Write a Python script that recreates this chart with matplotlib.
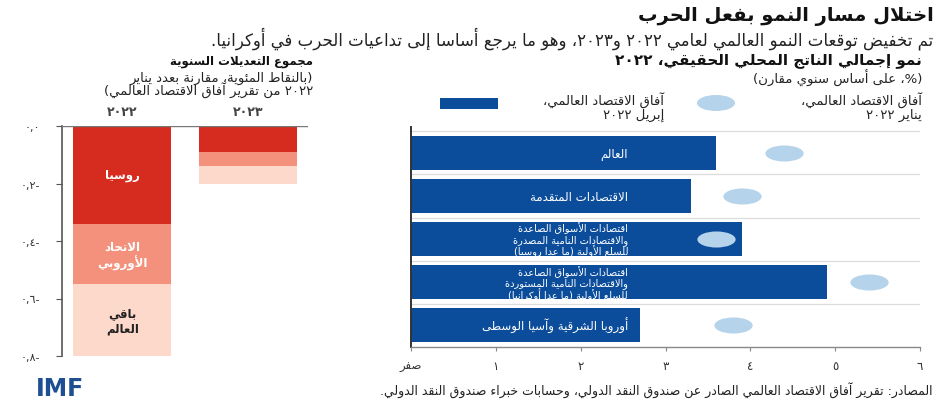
import re
import matplotlib
matplotlib.use('Agg')
import matplotlib.pyplot as plt
from matplotlib.path import Path
from matplotlib.transforms import Affine2D, offset_copy
from matplotlib.patches import Rectangle, Ellipse

plt.rcParams['font.family'] = ['DejaVu Sans']

# ---------------- data ----------------
adj_years = ['٢٠٢٢', '٢٠٢٣']
adj_russia = [-0.34, -0.09]
adj_eu = [-0.21, -0.05]
adj_rest = [-0.25, -0.06]
adj_ticks = [0.0, -0.2, -0.4, -0.6, -0.8]
adj_ticklabels = ['٠,٠', '٠,٢-', '٠,٤-', '٠,٦-', '٠,٨-']
seg_names = ['روسيا', 'الاتحاد\nالأوروبي', 'باقي\nالعالم']

gdp_categories = [
    'العالم',
    'الاقتصادات المتقدمة',
    'اقتصادات الأسواق الصاعدة\nوالاقتصادات النامية المصدرة\nللسلع الأولية (ما عدا روسيا)',
    'اقتصادات الأسواق الصاعدة\nوالاقتصادات النامية المستوردة\nللسلع الأولية (ما عدا أوكرانيا)',
    'أوروبا الشرقية وآسيا الوسطى',
]
gdp_apr2022 = [3.6, 3.3, 3.9, 4.9, 2.7]
gdp_jan2022 = [4.4, 3.9, 3.6, 5.4, 3.8]
gdp_ticks = [0, 1, 2, 3, 4, 5, 6]
gdp_ticklabels = ['صفر', '١', '٢', '٣', '٤', '٥', '٦']

# ---------------- simple Arabic shaping + visual ordering ----------------
DUAL = {0x0626: 0xFE89, 0x0628: 0xFE8F, 0x062A: 0xFE95, 0x062B: 0xFE99, 0x062C: 0xFE9D,
        0x062D: 0xFEA1, 0x062E: 0xFEA5, 0x0633: 0xFEB1, 0x0634: 0xFEB5, 0x0635: 0xFEB9,
        0x0636: 0xFEBD, 0x0637: 0xFEC1, 0x0638: 0xFEC5, 0x0639: 0xFEC9, 0x063A: 0xFECD,
        0x0641: 0xFED1, 0x0642: 0xFED5, 0x0643: 0xFED9, 0x0644: 0xFEDD, 0x0645: 0xFEE1,
        0x0646: 0xFEE5, 0x0647: 0xFEE9, 0x064A: 0xFEF1}
RIGHT = {0x0622: 0xFE81, 0x0623: 0xFE83, 0x0624: 0xFE85, 0x0625: 0xFE87, 0x0627: 0xFE8D,
         0x0629: 0xFE93, 0x062F: 0xFEA9, 0x0630: 0xFEAB, 0x0631: 0xFEAD, 0x0632: 0xFEAF,
         0x0648: 0xFEED, 0x0649: 0xFEEF}
NONJ = {0x0621: 0xFE80}
LAMALEF = {0x0622: 0xFEF5, 0x0623: 0xFEF7, 0x0625: 0xFEF9, 0x0627: 0xFEFB}


def _fwd(c):
    return c is not None and (ord(c) in DUAL or c == '\u0640')


def _joins(c):
    return c is not None and (ord(c) in DUAL or ord(c) in RIGHT or c == '\u0640')


def shape(s):
    out = []
    n = len(s)
    i = 0
    while i < n:
        c = s[i]
        o = ord(c)
        prev = s[i - 1] if i > 0 else None
        p = _fwd(prev)
        if o == 0x0644 and i + 1 < n and ord(s[i + 1]) in LAMALEF:
            out.append(chr(LAMALEF[ord(s[i + 1])] + (1 if p else 0)))
            i += 2
            continue
        nxt = s[i + 1] if i + 1 < n else None
        nx = _joins(nxt)
        if o in DUAL:
            b = DUAL[o]
            if p and nx:
                out.append(chr(b + 3))
            elif nx:
                out.append(chr(b + 2))
            elif p:
                out.append(chr(b + 1))
            else:
                out.append(chr(b))
        elif o in RIGHT:
            out.append(chr(RIGHT[o] + (1 if p else 0)))
        elif o in NONJ:
            out.append(chr(NONJ[o]))
        else:
            out.append(c)
        i += 1
    return ''.join(out)


NUM = re.compile(r'[0-9\u0660-\u0669]+(?:[.,\u066B][0-9\u0660-\u0669]+)*')
MIRROR = {'(': ')', ')': '(', '[': ']', ']': '['}


def visual(s):
    toks = []
    pos = 0
    for m in NUM.finditer(s):
        toks.extend(MIRROR.get(ch, ch) for ch in s[pos:m.start()])
        toks.append(m.group())
        pos = m.end()
    toks.extend(MIRROR.get(ch, ch) for ch in s[pos:])
    return ''.join(reversed(toks))


def ar(s):
    return '\n'.join(visual(shape(line)) for line in s.split('\n'))


# ---------------- figure ----------------
W, H = 939, 402
fig = plt.figure(figsize=(W / 100, H / 100), dpi=100)
fig.patch.set_facecolor('white')


def fx(px):
    return px / W


def fy(py):
    return 1 - py / H


def lines_text(x, y0, step, s, **kw):
    for k, line in enumerate(s.split('\n')):
        fig.text(fx(x), fy(y0 + k * step), ar(line), **kw)


RED = '#d62b1f'
SALMON = '#f4917c'
PALE = '#fdd9cc'
BLUE = '#0b4d9b'
LBLUE = '#b5d3ea'
TXT = '#222222'

# titles
fig.text(fx(934), fy(16), ar('اختلال مسار النمو بفعل الحرب'), ha='right', va='center',
         fontsize=14, fontweight='bold', color='#111111')
fig.text(fx(933), fy(39), ar('تم تخفيض توقعات النمو العالمي لعامي ٢٠٢٢ و٢٠٢٣، وهو ما يرجع أساسا إلى تداعيات الحرب في أوكرانيا.'),
         ha='right', va='center', fontsize=12, color=TXT)

# ---------------- left panel ----------------
axL = fig.add_axes([fx(62), fy(357), fx(308) - fx(62), fy(127) - fy(357)])
xpos = [0, 1]
axL.bar(xpos, adj_russia, width=0.78, color=RED, zorder=2)
axL.bar(xpos, adj_eu, bottom=adj_russia, width=0.78, color=SALMON, zorder=2)
bot2 = [a + b for a, b in zip(adj_russia, adj_eu)]
axL.bar(xpos, adj_rest, bottom=bot2, width=0.78, color=PALE, zorder=2)
axL.set_xlim(-0.48, 1.48)
axL.set_ylim(-0.8, 0.0)
axL.axhline(0, color='#777777', lw=1.0, zorder=3)
for s in ['top', 'right', 'bottom']:
    axL.spines[s].set_visible(False)
axL.spines['left'].set_color('#555555')
axL.spines['left'].set_linewidth(1.2)
axL.set_xticks([])
axL.set_yticks(adj_ticks)
axL.set_yticklabels(adj_ticklabels, fontsize=8, color='#333333')
axL.tick_params(axis='y', length=4, pad=12, color='#555555')


def seg_label(ax, x, y, s, color, size, step_px):
    ls = s.split('\n')
    n = len(ls)
    for k, line in enumerate(ls):
        off = ((n - 1) / 2 - k) * step_px
        tr = offset_copy(ax.transData, fig=fig, x=0, y=off, units='dots')
        ax.text(x, y, ar(line), transform=tr, ha='center', va='center', fontsize=size,
                fontweight='bold', color=color, zorder=4)


seg_label(axL, 0, adj_russia[0] / 2, seg_names[0], 'white', 8.5, 16)
seg_label(axL, 0, adj_russia[0] + adj_eu[0] / 2, seg_names[1], 'white', 8.5, 16)
seg_label(axL, 0, bot2[0] + adj_rest[0] / 2, seg_names[2], '#222222', 8.5, 15)

# year labels above the bars
for xi, yl in zip(xpos, adj_years):
    fig.text(axL.transData.transform((xi, 0))[0] / W, fy(113), yl, ha='center', va='center',
             fontsize=9, color='#444444', fontweight='bold')

fig.text(fx(313), fy(62), ar('مجموع التعديلات السنوية'), ha='right', va='center',
         fontsize=8.5, fontweight='bold', color='#111111')
lines_text(313, 78, 13, '(بالنقاط المئوية، مقارنة بعدد يناير\n٢٠٢٢ من تقرير آفاق الاقتصاد العالمي)',
           ha='right', va='center', fontsize=9.5, color=TXT)

# ---------------- right panel ----------------
axR = fig.add_axes([fx(411), fy(348), fx(920) - fx(411), fy(128) - fy(348)])
ypos = list(range(len(gdp_categories)))
axR.barh(ypos, gdp_apr2022, height=0.79, color=BLUE, zorder=2)
ell = Path.unit_circle().transformed(Affine2D().scale(1.0, 0.42))
axR.scatter(gdp_jan2022, ypos, marker=ell, s=760, color=LBLUE, zorder=3, linewidths=0)
for y in [-0.5, 0.5, 1.5, 2.5, 3.5]:
    axR.axhline(y, color='#dcdcdc', lw=0.9, zorder=1)
axR.set_xlim(0, 6)
axR.set_ylim(4.5, -0.6)
for s in ['top', 'right']:
    axR.spines[s].set_visible(False)
axR.spines['left'].set_color('#333333')
axR.spines['left'].set_linewidth(1.4)
axR.spines['bottom'].set_color('#888888')
axR.spines['bottom'].set_linewidth(1.0)
axR.set_yticks([])
axR.set_xticks(gdp_ticks)
axR.set_xticklabels([ar(t) for t in gdp_ticklabels], fontsize=8.5, color='#333333')
axR.tick_params(axis='x', length=3, pad=6, color='#888888')

for y, lab in zip(ypos, gdp_categories):
    ls = lab.split('\n')
    n = len(ls)
    size = 8.5 if n == 1 else 7.1
    for k, line in enumerate(ls):
        off = ((n - 1) / 2 - k) * 11.6
        tr = offset_copy(axR.transData, fig=fig, x=0, y=off, units='dots')
        axR.text(2.56, y, ar(line), transform=tr, ha='right', va='center', fontsize=size,
                 color='white', zorder=4)

fig.text(fx(922), fy(61), ar('نمو إجمالي الناتج المحلي الحقيقي، ٢٠٢٢'), ha='right', va='center',
         fontsize=11, fontweight='bold', color='#111111')
fig.text(fx(922), fy(78.5), ar('(%، على أساس سنوي مقارن)'), ha='right', va='center',
         fontsize=9.5, color=TXT)

# legend
fig.add_artist(Ellipse((fx(716), fy(104)), fx(38), 16 / H, transform=fig.transFigure,
                       facecolor=LBLUE, edgecolor='none'))
lines_text(922, 101, 14, 'آفاق الاقتصاد العالمي،\nيناير ٢٠٢٢', ha='right', va='center',
           fontsize=9.5, color=TXT)
fig.add_artist(Rectangle((fx(440), fy(110)), fx(58), 11 / H, transform=fig.transFigure,
                         facecolor=BLUE, edgecolor='none'))
lines_text(664, 101, 14, 'آفاق الاقتصاد العالمي،\nإبريل ٢٠٢٢', ha='right', va='center',
           fontsize=9.5, color=TXT)

# ---------------- footer ----------------
fig.text(fx(60), fy(396), 'IMF', ha='center', va='baseline', fontsize=17, fontweight='heavy',
         color='#1d4f91')
fig.text(fx(933), fy(391), ar('المصادر: تقرير آفاق الاقتصاد العالمي الصادر عن صندوق النقد الدولي، وحسابات خبراء صندوق النقد الدولي.'),
         ha='right', va='center', fontsize=9, color=TXT)

fig.savefig('out.png', dpi=100, facecolor='white')
